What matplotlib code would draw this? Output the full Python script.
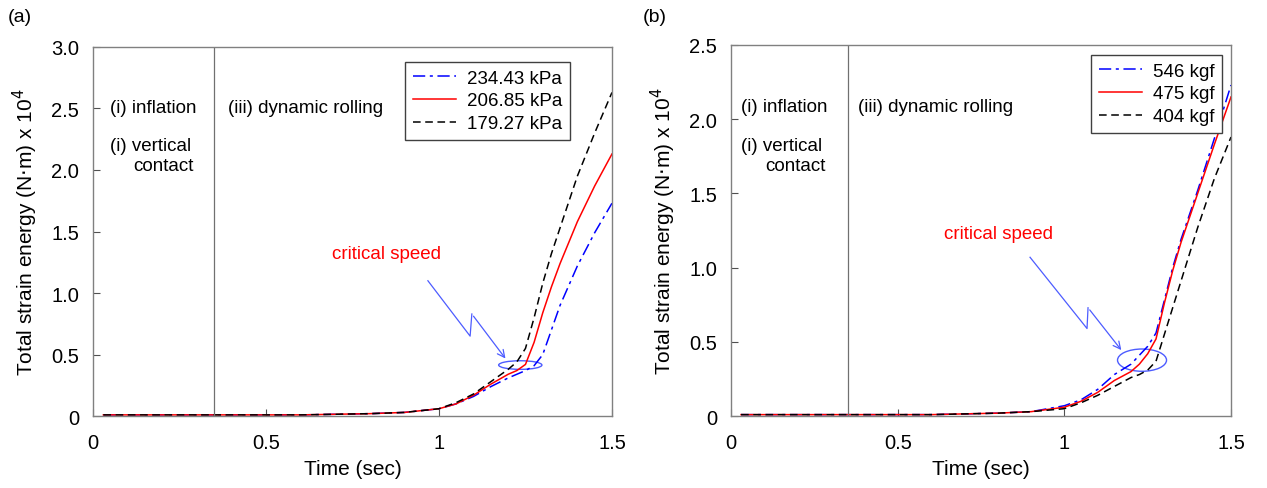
import numpy as np
import matplotlib
matplotlib.use('Agg')
import matplotlib.pyplot as plt
from matplotlib.patches import Ellipse

plt.rcParams['font.family'] = ['Liberation Sans', 'DejaVu Sans']
plt.rcParams['font.size'] = 13

### data

t = [0.03, 0.6, 0.8, 0.9, 1.0, 1.05, 1.1, 1.15, 1.2, 1.225, 1.25, 1.275, 1.3, 1.325, 1.35, 1.4, 1.45, 1.5]

# (a) inflation pressure
a_labels = ['234.43 kPa', '206.85 kPa', '179.27 kPa']
a_high = [0.01, 0.01, 0.02, 0.03, 0.06, 0.10, 0.16, 0.24, 0.31, 0.34, 0.37, 0.41, 0.50, 0.70, 0.90, 1.22, 1.49, 1.73]
a_mid = [0.01, 0.01, 0.02, 0.03, 0.06, 0.10, 0.17, 0.26, 0.34, 0.37, 0.42, 0.60, 0.84, 1.05, 1.24, 1.58, 1.87, 2.13]
a_low = [0.01, 0.01, 0.02, 0.03, 0.06, 0.11, 0.18, 0.28, 0.38, 0.44, 0.55, 0.80, 1.08, 1.32, 1.53, 1.95, 2.30, 2.63]

# (b) vertical load
b_labels = ['546 kgf', '475 kgf', '404 kgf']
b_high = [0.01, 0.01, 0.02, 0.03, 0.07, 0.11, 0.18, 0.28, 0.35, 0.41, 0.47, 0.56, 0.78, 1.00, 1.19, 1.52, 1.87, 2.23]
b_mid = [0.01, 0.01, 0.02, 0.03, 0.06, 0.10, 0.16, 0.24, 0.30, 0.35, 0.42, 0.52, 0.76, 0.98, 1.17, 1.50, 1.83, 2.15]
b_low = [0.01, 0.01, 0.02, 0.03, 0.05, 0.09, 0.14, 0.20, 0.26, 0.28, 0.31, 0.37, 0.55, 0.73, 0.91, 1.27, 1.60, 1.88]

###

fig = plt.figure(figsize=(12.67, 4.89), dpi=100)
axa = fig.add_axes([0.0734, 0.147, 0.4096, 0.755])
axb = fig.add_axes([0.577, 0.147, 0.3946, 0.759])

blue_ann = '#4d5cff'


def panel(ax, ys, labels, ymax, yticks):
    styles = [('b', (0, (8, 3, 2, 3))), ('r', '-'), ('k', (0, (5, 3)))]
    for y, lab, (c, ls) in zip(ys, labels, styles):
        ax.plot(t, y, color=c, ls=ls, lw=1.1, label=lab)
    ax.axvline(0.35, color='#707070', lw=0.9)
    ax.set_xlim(0, 1.5)
    ax.set_ylim(0, ymax)
    ax.set_xticks([0, 0.5, 1, 1.5])
    ax.set_xticklabels(['0', '0.5', '1', '1.5'])
    ax.set_yticks(yticks)
    ax.set_yticklabels(['0'] + ['%.1f' % v for v in yticks[1:]])
    ax.tick_params(direction='in', length=5, color='#505050', labelsize=14.5)
    ax.tick_params(axis='x', pad=12)
    ax.tick_params(axis='y', pad=10)
    for s in ax.spines.values():
        s.set_color('#808080')
        s.set_linewidth(1.0)
    ax.set_xlabel('Time (sec)', fontsize=15, labelpad=5)
    ax.set_ylabel('Total strain energy (N$\\cdot$m) x 10$^4$', fontsize=15, labelpad=8)


panel(axa, [a_high, a_mid, a_low], a_labels, 3.0, [0, 0.5, 1.0, 1.5, 2.0, 2.5, 3.0])
panel(axb, [b_high, b_mid, b_low], b_labels, 2.5, [0, 0.5, 1.0, 1.5, 2.0, 2.5])

# (a) annotations
axa.legend(loc='upper right', bbox_to_anchor=(0.919, 0.959), borderaxespad=0, fancybox=False,
           edgecolor='#404040', fontsize=13.5, handlelength=2.3, handletextpad=0.6,
           borderpad=0.4, labelspacing=0.3, framealpha=1)
axa.text(0.033, 0.837, '(i) inflation', transform=axa.transAxes, va='center', fontsize=13.5)
axa.text(0.033, 0.732, '(i) vertical', transform=axa.transAxes, va='center', fontsize=13.5)
axa.text(0.077, 0.678, 'contact', transform=axa.transAxes, va='center', fontsize=13.5)
axa.text(0.26, 0.837, '(iii) dynamic rolling', transform=axa.transAxes, va='center', fontsize=13.5)
axa.text(0.69, 1.32, 'critical speed', color='red', va='center', fontsize=13.5)
axa.add_patch(Ellipse((1.235, 0.415), 0.125, 0.07, fill=False, ec=blue_ann, lw=1.0))
axa.plot([0.968, 1.09, 1.095], [1.10, 0.65, 0.83], color=blue_ann, lw=0.9)
axa.annotate('', xy=(1.197, 0.45), xytext=(1.095, 0.83),
             arrowprops=dict(arrowstyle='->', color=blue_ann, lw=0.9))

# (b) annotations
axb.legend(loc='upper right', bbox_to_anchor=(0.982, 0.973), borderaxespad=0, fancybox=False,
           edgecolor='#404040', fontsize=13.5, handlelength=2.3, handletextpad=0.6,
           borderpad=0.4, labelspacing=0.3, framealpha=1)
axb.text(0.02, 0.834, '(i) inflation', transform=axb.transAxes, va='center', fontsize=13.5)
axb.text(0.02, 0.73, '(i) vertical', transform=axb.transAxes, va='center', fontsize=13.5)
axb.text(0.068, 0.676, 'contact', transform=axb.transAxes, va='center', fontsize=13.5)
axb.text(0.254, 0.834, '(iii) dynamic rolling', transform=axb.transAxes, va='center', fontsize=13.5)
axb.text(0.64, 1.23, 'critical speed', color='red', va='center', fontsize=13.5)
axb.add_patch(Ellipse((1.233, 0.377), 0.147, 0.15, fill=False, ec=blue_ann, lw=1.0))
axb.plot([0.897, 1.068, 1.071], [1.07, 0.59, 0.73], color=blue_ann, lw=0.9)
axb.annotate('', xy=(1.176, 0.43), xytext=(1.071, 0.73),
             arrowprops=dict(arrowstyle='->', color=blue_ann, lw=0.9))

fig.text(0.006, 0.965, '(a)', fontsize=14, va='center')
fig.text(0.507, 0.965, '(b)', fontsize=14, va='center')

fig.savefig('out.png', dpi=100)
